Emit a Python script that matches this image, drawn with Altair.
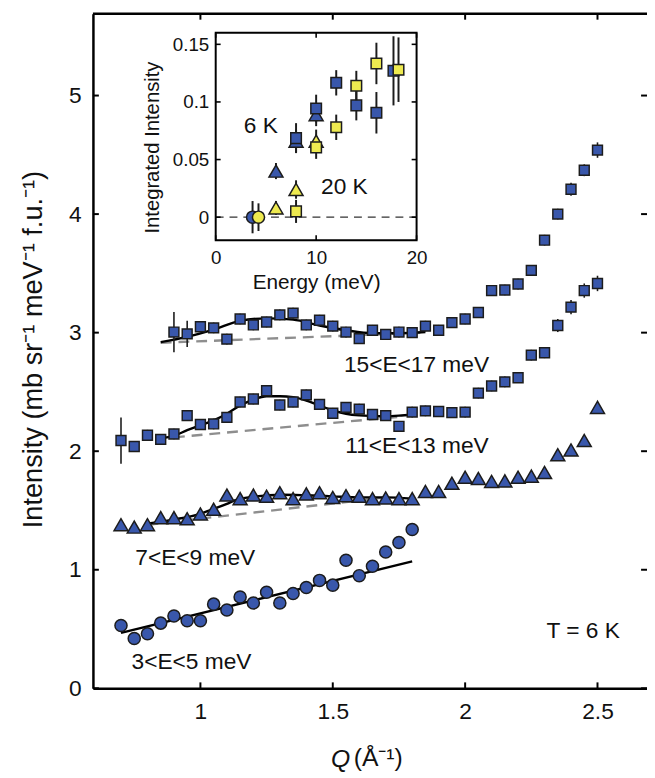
import altair as alt
import pandas as pd

FONT = "Liberation Sans, Arial, Helvetica, sans-serif"
BLUE = "#3957ab"
YELLOW = "#eeea50"
EDGE = "#1c1c1c"
INK = "#111111"

# ---------------- main panel values (Q in 1/Angstrom, intensity) ----------------
q_3_5 = [0.70, 0.75, 0.80, 0.85, 0.90, 0.95, 1.00, 1.05, 1.10, 1.15, 1.20, 1.25,
         1.30, 1.35, 1.40, 1.45, 1.50, 1.55, 1.60, 1.65, 1.70, 1.75, 1.80]
i_3_5 = [0.53, 0.42, 0.46, 0.55, 0.61, 0.57, 0.57, 0.71, 0.66, 0.77, 0.72, 0.81,
         0.72, 0.80, 0.85, 0.91, 0.87, 1.08, 0.95, 1.03, 1.15, 1.23, 1.34]
e_3_5 = [0.04, 0.04, 0.04, 0.04, 0.04, 0.04, 0.04, 0.04, 0.04, 0.04, 0.04, 0.04,
         0.04, 0.04, 0.04, 0.04, 0.04, 0.05, 0.04, 0.04, 0.04, 0.05, 0.05]

q_7_9 = [0.70, 0.75, 0.80, 0.85, 0.90, 0.95, 1.00, 1.05, 1.10, 1.15, 1.20, 1.25,
         1.30, 1.35, 1.40, 1.45, 1.50, 1.55, 1.60, 1.65, 1.70, 1.75, 1.80, 1.85,
         1.90, 1.95, 2.00, 2.05, 2.10, 2.15, 2.20, 2.25, 2.30, 2.35, 2.40, 2.45, 2.50]
i_7_9 = [1.38, 1.36, 1.38, 1.44, 1.44, 1.43, 1.47, 1.51, 1.63, 1.60, 1.63, 1.62,
         1.65, 1.60, 1.64, 1.65, 1.61, 1.625, 1.62, 1.60, 1.605, 1.60, 1.60, 1.66,
         1.66, 1.73, 1.78, 1.77, 1.745, 1.75, 1.78, 1.79, 1.82, 1.97, 2.01, 2.09, 2.37]
e_7_9 = [0.035, 0.035, 0.035, 0.035, 0.035, 0.035, 0.035, 0.035, 0.035, 0.035, 0.035, 0.035,
         0.035, 0.035, 0.035, 0.035, 0.035, 0.035, 0.035, 0.035, 0.035, 0.035, 0.035, 0.035,
         0.035, 0.035, 0.035, 0.035, 0.035, 0.035, 0.035, 0.035, 0.035, 0.035, 0.035, 0.035, 0.035]

q_11_13 = [0.70, 0.75, 0.80, 0.85, 0.90, 0.95, 1.00, 1.05, 1.10, 1.15, 1.20, 1.25,
           1.30, 1.35, 1.40, 1.45, 1.50, 1.55, 1.60, 1.65, 1.70, 1.75, 1.80, 1.85,
           1.90, 1.95, 2.00, 2.05, 2.10, 2.15, 2.20, 2.25, 2.30, 2.35, 2.40, 2.45, 2.50]
i_11_13 = [2.09, 2.04, 2.135, 2.10, 2.145, 2.30, 2.225, 2.23, 2.285, 2.415, 2.44, 2.51,
           2.39, 2.415, 2.475, 2.395, 2.32, 2.37, 2.355, 2.31, 2.30, 2.21, 2.33, 2.34,
           2.335, 2.325, 2.33, 2.49, 2.55, 2.585, 2.62, 2.81, 2.83, 3.06, 3.215, 3.355, 3.415]
e_11_13 = [0.195, 0.045, 0.045, 0.045, 0.045, 0.045, 0.045, 0.045, 0.045, 0.045, 0.045, 0.045,
           0.045, 0.045, 0.045, 0.045, 0.045, 0.045, 0.045, 0.045, 0.045, 0.045, 0.045, 0.045,
           0.045, 0.045, 0.045, 0.045, 0.045, 0.045, 0.045, 0.045, 0.045, 0.055, 0.06, 0.06, 0.065]

q_15_17 = [0.90, 0.95, 1.00, 1.05, 1.10, 1.15, 1.20, 1.25, 1.30, 1.35, 1.40, 1.45,
           1.50, 1.55, 1.60, 1.65, 1.70, 1.75, 1.80, 1.85, 1.90, 1.95, 2.00, 2.05,
           2.10, 2.15, 2.20, 2.25, 2.30, 2.35, 2.40, 2.45, 2.50]
i_15_17 = [3.005, 2.99, 3.05, 3.04, 2.945, 3.115, 3.065, 3.09, 3.15, 3.165, 3.065, 3.105,
           3.055, 3.005, 2.95, 3.02, 2.985, 3.005, 3.00, 3.055, 3.02, 3.085, 3.115, 3.17,
           3.355, 3.36, 3.41, 3.525, 3.78, 4.00, 4.21, 4.37, 4.54]
e_15_17 = [0.17, 0.11, 0.045, 0.045, 0.045, 0.045, 0.045, 0.045, 0.045, 0.045, 0.045, 0.045,
           0.045, 0.045, 0.045, 0.045, 0.045, 0.045, 0.045, 0.045, 0.045, 0.045, 0.045, 0.045,
           0.045, 0.045, 0.045, 0.045, 0.045, 0.045, 0.055, 0.05, 0.065]

# fitted curves
fit_3_5_q = [0.70, 1.80]
fit_3_5_i = [0.467, 1.07]
fit_7_9_q = [0.80, 0.90, 1.00, 1.05, 1.10, 1.13, 1.21, 1.31, 1.40, 1.50, 1.60, 1.70, 1.80]
fit_7_9_i = [1.388, 1.424, 1.472, 1.513, 1.555, 1.586, 1.619, 1.633, 1.628, 1.619, 1.61, 1.61, 1.60]
fit_11_13_q = [0.85, 0.90, 0.95, 1.00, 1.05, 1.10, 1.15, 1.20, 1.25, 1.30, 1.35, 1.40,
               1.45, 1.50, 1.55, 1.60, 1.65, 1.70, 1.75, 1.80]
fit_11_13_i = [2.11, 2.13, 2.177, 2.218, 2.26, 2.316, 2.386, 2.436, 2.464, 2.464, 2.456, 2.427,
               2.386, 2.344, 2.316, 2.302, 2.297, 2.295, 2.30, 2.31]
fit_15_17_q = [0.85, 0.95, 1.05, 1.15, 1.25, 1.35, 1.45, 1.55, 1.65, 1.75, 1.85]
fit_15_17_i = [2.92, 2.965, 3.025, 3.10, 3.12, 3.11, 3.06, 3.02, 2.995, 2.995, 3.005]

# linear backgrounds (dashed)
bg_7_9_q = [0.80, 1.70]
bg_7_9_i = [1.38, 1.61]
bg_11_13_q = [0.90, 1.75]
bg_11_13_i = [2.117, 2.29]
bg_15_17_q = [0.85, 1.85]
bg_15_17_i = [2.915, 3.0]

label_text = ["15<E<17 meV", "11<E<13 meV", "7<E<9 meV", "3<E<5 meV", "T = 6 K"]
label_q = [1.542, 1.547, 0.754, 0.740, 2.307]
label_i = [2.667, 1.987, 1.042, 0.167, 0.4225]

x_ticks = [1, 1.5, 2, 2.5]
y_ticks = [0, 1, 2, 3, 4, 5]

# ---------------- inset values (Energy meV, integrated intensity) ----------------
b_circ_e, b_circ_v, b_circ_err = [3.67], [0.0], [0.014]
y_circ_e, y_circ_v, y_circ_err = [4.26], [0.0], [0.012]
b_tri_e, b_tri_v, b_tri_err = [6, 8, 10], [0.040, 0.066, 0.089], [0.007, 0.01, 0.01]
y_tri_e, y_tri_v, y_tri_err = [6, 8, 10], [0.008, 0.024, 0.066], [0.006, 0.008, 0.01]
b_sq_e = [8, 10, 12, 14, 16, 17.7]
b_sq_v = [0.0686, 0.0943, 0.1166, 0.097, 0.0906, 0.127]
b_sq_err = [0.013, 0.012, 0.011, 0.013, 0.018, 0.03]
y_sq_e = [8, 10, 12, 14, 16, 18.2]
y_sq_v = [0.005, 0.0606, 0.078, 0.114, 0.1334, 0.128]
y_sq_err = [0.01, 0.01, 0.011, 0.013, 0.018, 0.028]

inset_text = ["6 K", "20 K"]
inset_text_e = [2.79, 10.49]
inset_text_v = [0.0729, 0.020]

xi_domain = [0, 20]
yi_domain = [-0.02, 0.16]
xi_ticks = [0, 10, 20]
yi_ticks = [0, 0.05, 0.1, 0.15]

# ---------------- layout ----------------
W, H = 561, 683
IX0, IX1, IY0, IY1 = 124.3, 327.7, 229.3, 19.3
TK = 6

x_scale = alt.Scale(domain=[0.594, 2.687], nice=False, zero=False)
y_scale = alt.Scale(domain=[0, 5.69], nice=False, zero=False)
xi_scale = alt.Scale(domain=xi_domain, range=[IX0, IX1], nice=False, zero=False)
yi_scale = alt.Scale(domain=yi_domain, range=[IY0, IY1], nice=False, zero=False)

x_axis = alt.Axis(values=x_ticks, title="", format="~g", labelFontSize=23, labelPadding=13,
                  ticks=False, grid=False, domainColor="black", domainWidth=2.5,
                  labelFlush=False)
y_axis = alt.Axis(values=y_ticks, title="Intensity (mb sr\u207b\u00b9 meV\u207b\u00b9 f.u.\u207b\u00b9)",
                  format="~g", labelFontSize=23, labelPadding=12, ticks=False, grid=False,
                  domainColor="black", domainWidth=2.5, titleFontSize=27.5,
                  titleFontWeight="normal", titleBaseline="alphabetic",
                  titleX=-52, titleY=339.5)
xi_axis = alt.Axis(orient="bottom", offset=-(H - IY0), values=xi_ticks, title="Energy (meV)",
                   format="~g", labelFontSize=19, labelPadding=9, ticks=False, grid=False,
                   domain=False, labelFlush=False, titleFontSize=21, titleFontWeight="normal",
                   titleBaseline="alphabetic", titleX=(IX0 + IX1) / 2, titleY=48.5)
yi_axis = alt.Axis(orient="left", offset=-IX0, values=yi_ticks, title="Integrated Intensity",
                   format="~g", labelFontSize=19, labelPadding=7, ticks=False, grid=False,
                   domain=False, titleFontSize=20.5, titleFontWeight="normal",
                   titleBaseline="alphabetic", titleX=-58, titleY=135)


def X(f):
    return alt.X(f, type="quantitative", scale=x_scale, axis=x_axis)


def Y(f):
    return alt.Y(f, type="quantitative", scale=y_scale, axis=y_axis)


def XI(f):
    return alt.X(f, type="quantitative", scale=xi_scale, axis=xi_axis)


def YI(f):
    return alt.Y(f, type="quantitative", scale=yi_scale, axis=yi_axis)


def pts(q, i, e):
    return pd.DataFrame({"Q": q, "I": i,
                         "lo": [a - b for a, b in zip(i, e)],
                         "hi": [a + b for a, b in zip(i, e)]})


def curves(pairs):
    rows = []
    for k, (qq, ii) in enumerate(pairs):
        for a, b in zip(qq, ii):
            rows.append({"Q": a, "I": b, "s": k})
    return pd.DataFrame(rows)


one = pd.DataFrame({"z": [0]})

d35 = pts(q_3_5, i_3_5, e_3_5)
d1113 = pts(q_11_13, i_11_13, e_11_13)
d1517 = pts(q_15_17, i_15_17, e_15_17)
d79 = pts(q_7_9, i_7_9, e_7_9)

fits = curves([(fit_3_5_q, fit_3_5_i), (fit_7_9_q, fit_7_9_i),
               (fit_11_13_q, fit_11_13_i), (fit_15_17_q, fit_15_17_i)])
bgs = curves([(bg_7_9_q, bg_7_9_i), (bg_11_13_q, bg_11_13_i), (bg_15_17_q, bg_15_17_i)])

dashed = alt.Chart(bgs).mark_line(color="#8e8e8e", strokeWidth=2.4, strokeDash=[11, 7]).encode(
    x=X("Q"), y=Y("I"), detail="s:N")
solid = alt.Chart(fits).mark_line(color="black", strokeWidth=2.4, interpolate="monotone").encode(
    x=X("Q"), y=Y("I"), detail="s:N")


def ebars(d, w=1.6):
    return alt.Chart(d).mark_rule(color=EDGE, strokeWidth=w).encode(
        x=X("Q"), y=Y("lo"), y2=alt.Y2("hi"))


def marks(d, shape, size, fill=BLUE):
    return alt.Chart(d).mark_point(shape=shape, filled=True, fill=fill, stroke=EDGE,
                                   strokeWidth=1.5, size=size, opacity=1).encode(
        x=X("Q"), y=Y("I"))


labels = alt.Chart(pd.DataFrame({"Q": label_q, "I": label_i, "t": label_text})).mark_text(
    align="left", baseline="alphabetic", fontSize=23, font=FONT, color=INK).encode(
    x=X("Q"), y=Y("I"), text="t:N")

xt = pd.DataFrame({"v": x_ticks})
yt = pd.DataFrame({"v": y_ticks})
tick_rules = [
    alt.Chart(xt).mark_rule(color="black", strokeWidth=2).encode(
        x=X("v"), y=alt.value(H), y2=alt.value(H - TK)),
    alt.Chart(xt).mark_rule(color="black", strokeWidth=2).encode(
        x=X("v"), y=alt.value(0), y2=alt.value(TK)),
    alt.Chart(yt).mark_rule(color="black", strokeWidth=2).encode(
        y=Y("v"), x=alt.value(0), x2=alt.value(TK)),
    alt.Chart(yt).mark_rule(color="black", strokeWidth=2).encode(
        y=Y("v"), x=alt.value(W), x2=alt.value(W - TK)),
]
top_border = alt.Chart(one).mark_rule(color="black", strokeWidth=2.5).encode(
    x=alt.value(0), x2=alt.value(W), y=alt.value(0))

q_title = alt.Chart(one).mark_text(text="Q", fontStyle="italic", fontSize=25, font=FONT,
                                   align="left", baseline="alphabetic", color=INK).encode(
    x=alt.value(335 - 94), y=alt.value(772 - 9))
q_unit = alt.Chart(one).mark_text(text="(\u00c5\u207b\u00b9)", fontSize=25, font=FONT,
                                  align="left", baseline="alphabetic", color=INK).encode(
    x=alt.value(358 - 94), y=alt.value(771 - 9))

main = alt.layer(
    dashed, solid,
    ebars(d35), ebars(d79), ebars(d1113), ebars(d1517),
    marks(d35, "circle", 150), marks(d79, "triangle-up", 200),
    marks(d1113, "square", 100), marks(d1517, "square", 100),
    labels, *tick_rules, top_border, q_title, q_unit,
)

# ---------------- inset ----------------
box = alt.Chart(pd.DataFrame({"x0": [xi_domain[0]], "x1": [xi_domain[1]],
                              "y0": [yi_domain[0]], "y1": [yi_domain[1]]})).mark_rect(
    fill="white", stroke="black", strokeWidth=2).encode(
    x=XI("x0"), x2=alt.X2("x1"), y=YI("y0"), y2=alt.Y2("y1"))
zero = alt.Chart(pd.DataFrame({"a": [xi_domain[0]], "b": [xi_domain[1]], "v": [0]})).mark_rule(
    color="#333333", strokeWidth=1.2, strokeDash=[8, 6]).encode(
    x=XI("a"), x2=alt.X2("b"), y=YI("v"))


def ipts(e, v, err):
    return pd.DataFrame({"E": e, "V": v,
                         "lo": [a - b for a, b in zip(v, err)],
                         "hi": [a + b for a, b in zip(v, err)]})


ib_c, iy_c = ipts(b_circ_e, b_circ_v, b_circ_err), ipts(y_circ_e, y_circ_v, y_circ_err)
ib_t, iy_t = ipts(b_tri_e, b_tri_v, b_tri_err), ipts(y_tri_e, y_tri_v, y_tri_err)
ib_s, iy_s = ipts(b_sq_e, b_sq_v, b_sq_err), ipts(y_sq_e, y_sq_v, y_sq_err)


def iebar(d):
    return alt.Chart(d).mark_rule(color=EDGE, strokeWidth=2).encode(
        x=XI("E"), y=YI("lo"), y2=alt.Y2("hi"))


def imarks(d, shape, size, fill):
    return alt.Chart(d).mark_point(shape=shape, filled=True, fill=fill, stroke=EDGE,
                                   strokeWidth=1.5, size=size, opacity=1).encode(
        x=XI("E"), y=YI("V"))


itext = alt.Chart(pd.DataFrame({"E": inset_text_e, "V": inset_text_v, "t": inset_text})).mark_text(
    align="left", baseline="alphabetic", fontSize=23, font=FONT, color=INK).encode(
    x=XI("E"), y=YI("V"), text="t:N")

xit = pd.DataFrame({"v": xi_ticks})
yit = pd.DataFrame({"v": yi_ticks})
ITK = 5
itick_rules = [
    alt.Chart(xit).mark_rule(color="black", strokeWidth=1.6).encode(
        x=XI("v"), y=alt.value(IY0), y2=alt.value(IY0 - ITK)),
    alt.Chart(xit).mark_rule(color="black", strokeWidth=1.6).encode(
        x=XI("v"), y=alt.value(IY1), y2=alt.value(IY1 + ITK)),
    alt.Chart(yit).mark_rule(color="black", strokeWidth=1.6).encode(
        y=YI("v"), x=alt.value(IX0), x2=alt.value(IX0 + ITK)),
    alt.Chart(yit).mark_rule(color="black", strokeWidth=1.6).encode(
        y=YI("v"), x=alt.value(IX1), x2=alt.value(IX1 - ITK)),
]

inset = alt.layer(
    box, zero,
    iebar(ib_c), iebar(iy_c), iebar(ib_t), iebar(iy_t), iebar(ib_s), iebar(iy_s),
    imarks(ib_t, "triangle-up", 200, BLUE), imarks(iy_t, "triangle-up", 200, YELLOW),
    imarks(ib_c, "circle", 150, BLUE), imarks(iy_c, "circle", 150, YELLOW),
    imarks(ib_s, "square", 115, BLUE), imarks(iy_s, "square", 115, YELLOW),
    itext, *itick_rules,
)

chart = alt.layer(main, inset).resolve_scale(x="independent", y="independent").properties(
    width=W, height=H,
    autosize=alt.AutoSizeParams(type="none"),
    padding={"left": 86, "top": 1, "right": 0, "bottom": 86},
    background="white",
).configure_view(strokeWidth=0).configure_axis(
    labelFont=FONT, titleFont=FONT, labelColor=INK, titleColor=INK)

chart.save("out.html", embed_options={"renderer": "svg", "actions": False})
